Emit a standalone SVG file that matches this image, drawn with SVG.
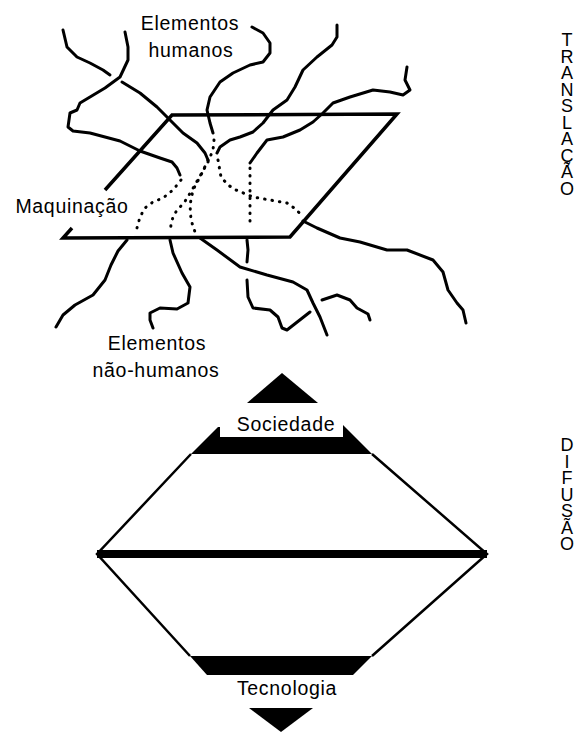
<svg xmlns="http://www.w3.org/2000/svg" width="580" height="732" viewBox="0 0 580 732">
<style>
.c{fill:none;stroke:#000;stroke-width:3;stroke-linecap:round;stroke-linejoin:round}
.d{fill:none;stroke:#000;stroke-width:3;stroke-linecap:round;stroke-dasharray:0.5 7}
.e{fill:none;stroke:#000;stroke-width:3.5;stroke-linejoin:miter}
.s{fill:none;stroke:#000;stroke-width:2.5}
.f{fill:#000}
.t{font-family:"Liberation Sans",Arial,sans-serif;font-size:19.5px;letter-spacing:0.7px;fill:#000;text-anchor:middle}
.v{font-family:"Liberation Sans",Arial,sans-serif;font-size:18px;fill:#000;writing-mode:vertical-rl;text-orientation:upright;letter-spacing:-3.5px}
</style>
<rect width="580" height="732" fill="#fff"/>
<g id="plane">
<path class="e" d="M105,190 L172,115 L397,114 L290,237 L63,238 L72,228"/>
</g>
<g id="connectors">
<path class="c" d="M63,30 L67,47 L77,57 L90,63 L103,70 L110,75"/>
<path class="c" d="M122,82 L140,93 L157,107 L170,120 L183,133 L197,143 L205,153 L208,160"/>
<path class="d" d="M208,160 L202,173 L193,190 L190,205 L191,220 L195,232"/>
<path class="c" d="M200,238 L217,250 L240,267 L267,275 L293,282 L307,290 L313,303 L320,317 L327,335"/>
<path class="c" d="M125,32 L128,47 L128,60 L120,77 L105,88 L90,97 L80,103 L77,110 L70,113 L68,127 L73,131 L90,133 L120,141 L140,151 L160,158 L172,162 L177,168 L180,175"/>
<path class="d" d="M181,180 L173,190 L163,198 L153,202 L145,208 L140,217 L137,228"/>
<path class="c" d="M127,240 L118,251 L111,265 L105,280 L93,295 L75,305 L63,315 L56,327"/>
<path class="c" d="M252,27 L263,33 L270,43 L270,53 L263,62 L250,65 L233,73 L220,82 L210,97 L207,110 L210,123 L213,133"/>
<path class="d" d="M214,140 L213,150 L208,162 L200,176 L192,190 L184,203 L177,210 L173,217 L171,225 L170,232"/>
<path class="c" d="M170,240 L173,253 L182,273 L190,287 L188,303 L177,309 L160,308 L150,313 L150,320 L153,328"/>
<path class="c" d="M337,25 L337,37 L332,45 L317,57 L303,70 L295,87 L287,100 L273,110 L263,123 L253,132 L240,137 L230,140 L220,147 L217,153"/>
<path class="d" d="M218,160 L221,177 L228,185 L236,190 L253,197 L270,200 L287,203 L297,210 L303,218"/>
<path class="c" d="M303,221 L317,228 L340,238 L360,242 L387,250 L407,250 L433,260 L443,272 L448,290 L457,303 L463,310 L466,323"/>
<path class="c" d="M407,67 L405,80 L410,90 L403,95 L390,92 L373,90 L350,97 L333,103 L323,113 L313,122 L300,130 L283,137 L267,140 L257,153 L250,163"/>
<path class="d" d="M250,168 L250,226"/>
<path class="c" d="M247,240 L248,250 L247,262"/>
<path class="c" d="M247,280 L248,297 L253,308 L270,310 L278,317 L282,328 L287,330 L310,312"/>
<path class="c" d="M322,300 L337,295 L350,300 L357,308 L368,314 L370,320"/>
</g>
<g id="label-humanos">
<text class="t" x="190" y="30">Elementos</text>
<text class="t" x="191" y="57">humanos</text>
</g>
<g id="label-maquinacao">
<text class="t" x="72" y="213">Maquinação</text>
</g>
<g id="label-nao-humanos">
<text class="t" x="157" y="350">Elementos</text>
<text class="t" x="156" y="377">não-humanos</text>
</g>
<g id="diamond">
<polygon class="f" points="282,373 318,403 247,403"/>
<polygon class="f" points="218,427 220,427 220,437 343,437 343,425 372,454 191,454"/>
<path class="s" d="M191,454 L97,554 L190,656"/>
<path class="s" d="M372,454 L487,554 L372,656"/>
<rect class="f" x="97" y="550" width="390" height="8"/>
<polygon class="f" points="190,656 372,656 353,675 207,675"/>
<polygon class="f" points="249,708 313,708 281,732"/>
</g>
<g id="label-sociedade"><text class="t" x="286" y="431">Sociedade</text></g>
<g id="label-tecnologia"><text class="t" x="287" y="695">Tecnologia</text></g>
<g id="translacao"><text class="v" x="567" y="30">TRANSLAÇÃO</text></g>
<g id="difusao"><text class="v" x="567" y="435">DIFUSÃO</text></g>
</svg>
